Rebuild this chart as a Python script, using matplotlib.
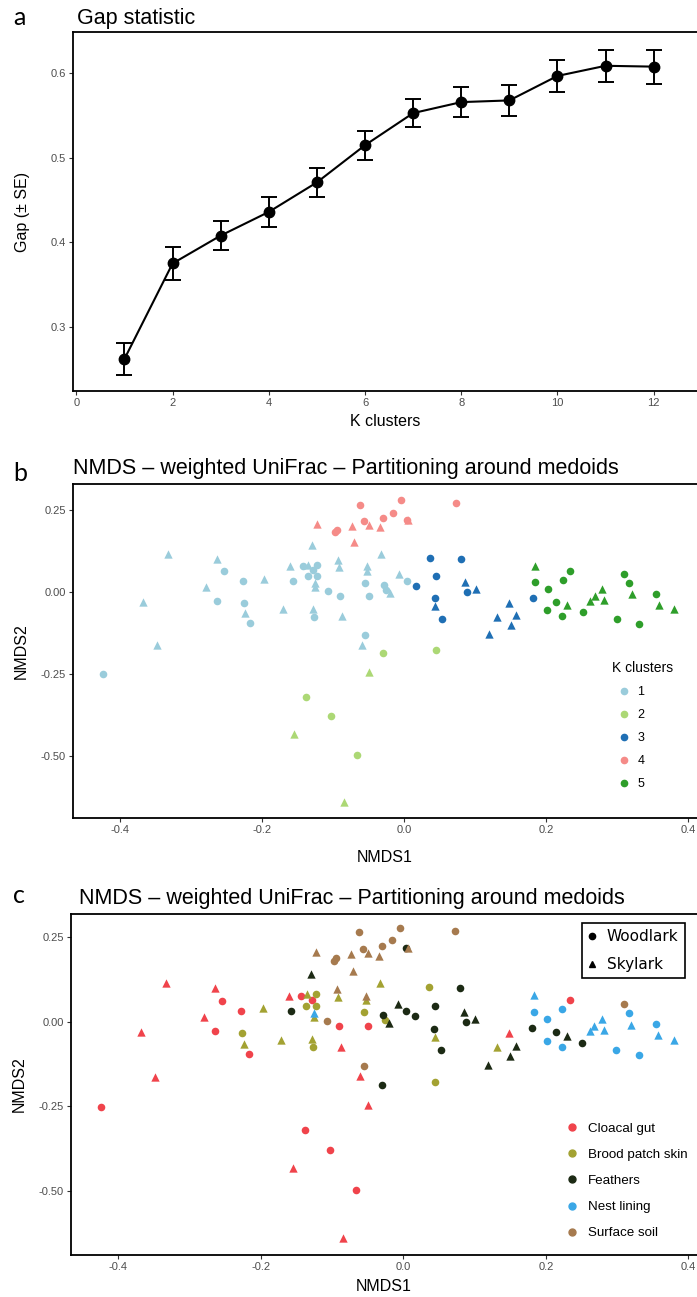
import matplotlib
matplotlib.use("Agg")
import matplotlib.pyplot as plt
from matplotlib.lines import Line2D
from matplotlib.ticker import FormatStrFormatter, MultipleLocator

plt.rcParams['font.family'] = ['Liberation Sans', 'DejaVu Sans']
plt.rcParams['axes.unicode_minus'] = False

# Gap statistic for k = 1..12
k_clusters = [1, 2, 3, 4, 5, 6, 7, 8, 9, 10, 11, 12]
gap = [0.262, 0.375, 0.408, 0.436, 0.471, 0.515, 0.553, 0.566, 0.568, 0.597, 0.609, 0.608]
gap_se = [0.019, 0.020, 0.017, 0.018, 0.017, 0.017, 0.017, 0.018, 0.018, 0.019, 0.019, 0.020]

# NMDS scores (weighted UniFrac), one entry per sample
nmds1 = [
    -0.424, -0.254, -0.227, -0.264, -0.217, -0.143, -0.128, -0.090, -0.050, 0.234, -0.138, -0.103, -0.066,
    -0.333, -0.264, -0.279, -0.368, -0.348, -0.160, -0.088, -0.060, -0.049, -0.155, -0.085, 0.148,
    -0.197, -0.226, -0.224, -0.171, -0.135, -0.136, -0.122, -0.122, -0.125, -0.128, -0.127, -0.092,
    -0.055, -0.052, -0.033, -0.025, 0.036, 0.044, 0.045, 0.131,
    -0.157, -0.130, -0.028, -0.007, 0.004, 0.016, 0.004, 0.045, 0.043, 0.053, 0.080, 0.085, 0.088,
    0.101, 0.119, 0.150, 0.158, 0.181, 0.214, 0.229, 0.251, -0.030, -0.020,
    0.184, 0.184, 0.202, 0.223, 0.201, 0.222, 0.262, 0.268, 0.279, 0.281, 0.299, 0.316, 0.320, 0.331,
    0.354, 0.358, 0.380, -0.125,
    -0.062, -0.004, 0.073, -0.016, -0.030, -0.057, -0.050, -0.034, -0.073, -0.095, -0.097, -0.071,
    -0.123, -0.093, -0.052, -0.107, -0.055, 0.309, 0.006,
]
nmds2 = [
    -0.252, 0.062, 0.033, -0.027, -0.094, 0.077, 0.066, -0.012, -0.013, 0.064, -0.321, -0.378, -0.497,
    0.116, 0.101, 0.015, -0.030, -0.163, 0.077, -0.074, -0.161, -0.245, -0.433, -0.639, -0.033,
    0.040, -0.033, -0.066, -0.054, 0.082, 0.047, 0.081, 0.047, 0.015, -0.052, -0.076, 0.074,
    0.028, 0.064, 0.114, 0.004, 0.104, -0.044, -0.178, -0.076,
    0.032, 0.142, 0.020, 0.054, 0.032, 0.017, 0.219, 0.047, -0.020, -0.082, 0.099, 0.030, -0.002,
    0.007, -0.128, -0.101, -0.071, -0.018, -0.030, -0.041, -0.063, -0.186, -0.005,
    0.079, 0.029, 0.007, 0.037, -0.056, -0.075, -0.028, -0.013, 0.008, -0.024, -0.083, 0.027, -0.008,
    -0.099, -0.006, -0.040, -0.054, 0.027,
    0.265, 0.278, 0.269, 0.241, 0.224, 0.216, 0.203, 0.196, 0.200, 0.188, 0.181, 0.151,
    0.206, 0.098, 0.077, 0.001, -0.131, 0.054, 0.218,
]
sample_type = (["CG"] * 25 + ["BP"] * 20 + ["FE"] * 23 + ["NL"] * 18 + ["SS"] * 19)
species = (
    ["W"] * 13 + ["S"] * 12
    + list("SWSSSWWWSSWSWSSWWSWS")
    + list("WSWSWWWWWWWSWSSSSWWSWWS")
    + list("SWWWWWSSSSWWSWWSSS")
    + list("WWWWWWSSSWWSSSSWWWS")
)
pam_cluster = (
    [1, 1, 1, 1, 1, 1, 1, 1, 1, 5, 2, 2, 2, 1, 1, 1, 1, 1, 1, 1, 1, 2, 2, 2, 3]
    + [1] * 16 + [3, 3, 2, 3]
    + [1, 1, 1, 1, 1, 3, 4, 3, 3, 3, 3, 3, 3, 3, 3, 3, 3, 3, 5, 5, 5, 2, 1]
    + [5] * 17 + [1]
    + [4] * 13 + [1, 1, 1, 1, 5, 4]
)

cluster_ids = [1, 2, 3, 4, 5]
cluster_colors = {1: '#9ACCDB', 2: '#ACD875', 3: '#1F6FB4', 4: '#F58B88', 5: '#2E9E2A'}

type_codes = ["CG", "BP", "FE", "NL", "SS"]
type_names = {"CG": "Cloacal gut", "BP": "Brood patch skin", "FE": "Feathers",
              "NL": "Nest lining", "SS": "Surface soil"}
type_colors = {"CG": '#F0434B', "BP": '#A3A232', "FE": '#1C2A14', "NL": '#3AA7E6', "SS": '#A67A4E'}

species_names = {"W": "Woodlark", "S": "Skylark"}
species_markers = {"W": "o", "S": "^"}

W, H = 697, 1297
fig = plt.figure(figsize=(W / 100, H / 100), dpi=100)
fig.patch.set_facecolor('white')


def px_axes(left, top, bottom):
    return fig.add_axes([left / W, 1 - bottom / H, 1 - left / W, (bottom - top) / H])


def style_axes(ax):
    for side in ('left', 'bottom', 'top'):
        ax.spines[side].set_linewidth(1.3)
        ax.spines[side].set_color('black')
    ax.spines['right'].set_visible(False)
    ax.tick_params(direction='out', length=3, width=0.8, color='#333333',
                   labelsize=8, labelcolor='#4D4D4D', pad=2)


def scatter_groups(ax, color_of):
    for i in range(len(nmds1)):
        ax.scatter(nmds1[i], nmds2[i], s=30 if species[i] == "W" else 36,
                   marker=species_markers[species[i]], color=color_of(i),
                   linewidths=0, zorder=3)


# a: gap statistic
ax_a = px_axes(73, 32, 391)
ax_a.errorbar(k_clusters, gap, yerr=gap_se, fmt='-o', color='black', lw=1.5,
              markersize=7.5, elinewidth=1.4, capsize=5.5, capthick=1.4)
ax_a.set_xlim(-0.07, 12.9)
ax_a.set_ylim(0.224, 0.649)
ax_a.xaxis.set_major_locator(MultipleLocator(2))
ax_a.yaxis.set_major_locator(MultipleLocator(0.1))
ax_a.yaxis.set_major_formatter(FormatStrFormatter('%.1f'))
style_axes(ax_a)
ax_a.set_xlabel('K clusters', fontsize=11.5, labelpad=4)
ax_a.set_ylabel('Gap (± SE)', fontsize=11.5, labelpad=15)
ax_a.set_title('Gap statistic', loc='left', fontsize=15.5, pad=6, x=0.007)

# b: PAM clusters on the NMDS ordination
ax_b = px_axes(73, 484, 818)
scatter_groups(ax_b, lambda i: cluster_colors[pam_cluster[i]])
ax_b.set_xlim(-0.466, 0.412)
ax_b.set_ylim(-0.689, 0.328)
ax_b.xaxis.set_major_locator(MultipleLocator(0.2))
ax_b.yaxis.set_major_locator(MultipleLocator(0.25))
ax_b.xaxis.set_major_formatter(FormatStrFormatter('%.1f'))
ax_b.yaxis.set_major_formatter(FormatStrFormatter('%.2f'))
style_axes(ax_b)
ax_b.set_xlabel('NMDS1', fontsize=11.5, labelpad=11)
ax_b.set_ylabel('NMDS2', fontsize=11.5, labelpad=9)
ax_b.set_title('NMDS – weighted UniFrac – Partitioning around medoids',
               loc='left', fontsize=15.5, pad=7, x=0.0)
k_handles = [Line2D([], [], ls='none', marker='o', markersize=4.5, color=cluster_colors[k],
                    label=str(k)) for k in cluster_ids]
ax_b.legend(handles=k_handles, title='K clusters', loc='upper left',
            bbox_to_anchor=(606 / W, 1 - 655 / H), bbox_transform=fig.transFigure,
            frameon=False, fontsize=9, title_fontsize=10, borderpad=0,
            handlelength=1.9, handletextpad=0.1, labelspacing=0.88,
            alignment='left')

# c: sample type and bird species on the same ordination
ax_c = px_axes(71, 914, 1255)
scatter_groups(ax_c, lambda i: type_colors[sample_type[i]])
ax_c.set_xlim(-0.466, 0.412)
ax_c.set_ylim(-0.690, 0.319)
ax_c.xaxis.set_major_locator(MultipleLocator(0.2))
ax_c.yaxis.set_major_locator(MultipleLocator(0.25))
ax_c.xaxis.set_major_formatter(FormatStrFormatter('%.1f'))
ax_c.yaxis.set_major_formatter(FormatStrFormatter('%.2f'))
style_axes(ax_c)
ax_c.set_xlabel('NMDS1', fontsize=11.5, labelpad=5)
ax_c.set_ylabel('NMDS2', fontsize=11.5, labelpad=9)
ax_c.set_title('NMDS – weighted UniFrac – Partitioning around medoids',
               loc='left', fontsize=15.5, pad=7, x=0.012)

sp_handles = [Line2D([], [], ls='none', marker=species_markers[s], markersize=4.5,
                     color='black', label=species_names[s]) for s in ("W", "S")]
leg_sp = ax_c.legend(handles=sp_handles, loc='upper left',
                     bbox_to_anchor=(582 / W, 1 - 923 / H), bbox_transform=fig.transFigure,
                     frameon=True, fancybox=False, edgecolor='black', framealpha=1,
                     prop={'family': 'DejaVu Sans', 'size': 11}, borderpad=0.4,
                     handlelength=0.5, handletextpad=0.73, labelspacing=0.85,
                     borderaxespad=0)
leg_sp.get_frame().set_linewidth(1.2)
ax_c.add_artist(leg_sp)

type_handles = [Line2D([], [], ls='none', marker='o', markersize=5, color=type_colors[t],
                       label=type_names[t]) for t in type_codes]
ax_c.legend(handles=type_handles, loc='upper left',
            bbox_to_anchor=(557 / W, 1 - 1116 / H), bbox_transform=fig.transFigure,
            frameon=False, fontsize=9.6, borderpad=0, handlelength=1.2,
            handletextpad=0.6, labelspacing=1.03)

# panel letters
for letter, ypix in (('a', 25), ('b', 481), ('c', 903)):
    fig.text(13 / W, 1 - ypix / H, letter, fontsize=18, family='Lato', va='baseline')

fig.savefig('out.png', dpi=100, facecolor='white')
